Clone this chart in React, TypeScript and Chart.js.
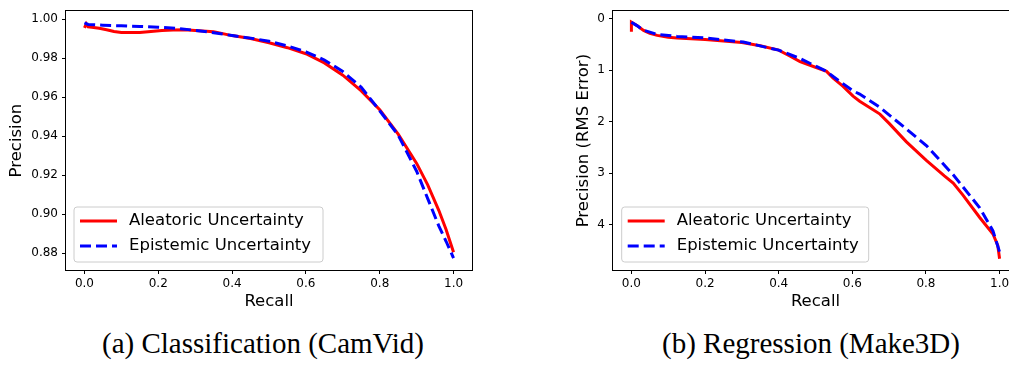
import React, { useEffect, useRef } from 'react';
import { Chart, registerables } from 'chart.js';

Chart.register(...registerables);

// ---------- Data ----------
const camvidRecallAleatoric = [0, 0.005, 0.01, 0.02, 0.04, 0.06, 0.08, 0.1, 0.12, 0.15, 0.18, 0.21, 0.24, 0.27, 0.3, 0.35, 0.4, 0.45, 0.5, 0.55, 0.6, 0.65, 0.7, 0.75, 0.8, 0.85, 0.9, 0.93, 0.96, 0.98, 1.0];
const camvidPrecisionAleatoric = [0.9955, 0.9975, 0.996, 0.9958, 0.9953, 0.9945, 0.9936, 0.9931, 0.9931, 0.9931, 0.9936, 0.9941, 0.9944, 0.9945, 0.9941, 0.9935, 0.9915, 0.99, 0.9878, 0.9853, 0.9822, 0.9775, 0.9712, 0.9632, 0.9535, 0.941, 0.926, 0.915, 0.902, 0.892, 0.8805];

const camvidRecallEpistemic = [0, 0.01, 0.05, 0.1, 0.15, 0.2, 0.25, 0.3, 0.35, 0.4, 0.45, 0.5, 0.55, 0.6, 0.65, 0.7, 0.75, 0.8, 0.85, 0.9, 0.93, 0.96, 0.98, 1.0];
const camvidPrecisionEpistemic = [0.998, 0.9972, 0.9968, 0.9965, 0.9962, 0.9958, 0.9952, 0.9942, 0.993, 0.9915, 0.9902, 0.9886, 0.9862, 0.9832, 0.979, 0.9731, 0.965, 0.953, 0.9405, 0.922, 0.908, 0.894, 0.886, 0.8775];

const make3dRecallAleatoric = [0, 0, 0.015, 0.033, 0.05, 0.07, 0.1, 0.124, 0.2, 0.3, 0.35, 0.4, 0.43, 0.458, 0.5, 0.53, 0.548, 0.575, 0.602, 0.62, 0.675, 0.7, 0.747, 0.801, 0.85, 0.874, 0.9, 0.946, 0.982, 0.995, 1.0];
const make3dRmsAleatoric = [0.25, 0.064, 0.128, 0.224, 0.28, 0.32, 0.355, 0.37, 0.4, 0.46, 0.52, 0.607, 0.72, 0.83, 0.94, 1.02, 1.15, 1.31, 1.5, 1.6, 1.85, 2.03, 2.39, 2.75, 3.05, 3.19, 3.42, 3.86, 4.18, 4.4, 4.66];

const make3dRecallEpistemic = [0, 0.015, 0.033, 0.07, 0.124, 0.2, 0.304, 0.4, 0.458, 0.53, 0.548, 0.602, 0.62, 0.675, 0.747, 0.801, 0.874, 0.946, 0.982, 1.0];
const make3dRmsEpistemic = [0.064, 0.13, 0.22, 0.3, 0.34, 0.37, 0.45, 0.607, 0.77, 1.02, 1.12, 1.4, 1.46, 1.72, 2.14, 2.46, 3.03, 3.67, 4.12, 4.53];

const recallTicks = [0, 0.2, 0.4, 0.6, 0.8, 1.0];
const camvidPrecisionTicks = [0.88, 0.9, 0.92, 0.94, 0.96, 0.98, 1.0];
const make3dRmsTicks = [0, 1, 2, 3, 4];

const seriesLabels = ['Aleatoric Uncertainty', 'Epistemic Uncertainty'];
const xAxisTitle = 'Recall';
const camvidYTitle = 'Precision';
const make3dYTitle = 'Precision (RMS Error)';
const captions = ['(a) Classification (CamVid)', '(b) Regression (Make3D)'];

// ---------- Styling ----------
const SANS = '"DejaVu Sans", sans-serif';

const boxLegendPlugin = {
  id: 'boxLegend',
  afterDatasetsDraw(chart: any, _args: any, opts: any) {
    const { ctx, chartArea } = chart;
    ctx.save();
    // frame
    ctx.strokeStyle = '#000';
    ctx.lineWidth = 1;
    ctx.strokeRect(
      Math.round(chartArea.left) - 0.5,
      Math.round(chartArea.top) - 0.5,
      Math.round(chartArea.right) - Math.round(chartArea.left) + 1,
      Math.round(chartArea.bottom) - Math.round(chartArea.top) + 1
    );
    if (!opts || !opts.w) { ctx.restore(); return; }
    const x = chartArea.left + opts.dx;
    const h = opts.h;
    const y = chartArea.bottom - opts.dy - h;
    const w = opts.w;
    const r = 3;
    ctx.beginPath();
    ctx.moveTo(x + r, y);
    ctx.lineTo(x + w - r, y);
    ctx.arcTo(x + w, y, x + w, y + r, r);
    ctx.lineTo(x + w, y + h - r);
    ctx.arcTo(x + w, y + h, x + w - r, y + h, r);
    ctx.lineTo(x + r, y + h);
    ctx.arcTo(x, y + h, x, y + h - r, r);
    ctx.lineTo(x, y + r);
    ctx.arcTo(x, y, x + r, y, r);
    ctx.closePath();
    ctx.fillStyle = 'rgba(255,255,255,0.8)';
    ctx.fill();
    ctx.strokeStyle = '#cccccc';
    ctx.lineWidth = 1;
    ctx.stroke();
    const ds = chart.data.datasets;
    ds.forEach((d: any, i: number) => {
      const yy = y + 14 + i * 25;
      ctx.beginPath();
      ctx.setLineDash(d.borderDash || []);
      ctx.strokeStyle = d.borderColor;
      ctx.lineWidth = d.borderWidth;
      ctx.lineCap = 'butt';
      ctx.moveTo(x + 6, yy);
      ctx.lineTo(x + 43, yy);
      ctx.stroke();
      ctx.setLineDash([]);
      ctx.fillStyle = '#000';
      ctx.font = `16.5px ${SANS}`;
      ctx.textAlign = 'left';
      ctx.textBaseline = 'middle';
      ctx.fillText(d.label, x + 55, yy);
    });
    ctx.restore();
  },
};

type PRProps = {
  left: number;
  width: number;
  height: number;
  padRight: number;
  yWidth: number;
  yTitlePad: number;
  recallA: number[];
  valuesA: number[];
  recallE: number[];
  valuesE: number[];
  yMin: number;
  yMax: number;
  yTicks: number[];
  yDecimals: number;
  reverse: boolean;
  yTitle: string;
  legend: { dx: number; dy: number; w: number; h: number };
};

function PRChart(p: PRProps) {
  const ref = useRef<HTMLCanvasElement>(null);
  useEffect(() => {
    const chart = new Chart(ref.current as HTMLCanvasElement, {
      type: 'line',
      data: {
        datasets: [
          {
            label: seriesLabels[0],
            data: p.recallA.map((x, i) => ({ x, y: p.valuesA[i] })),
            borderColor: '#ff0000',
            backgroundColor: '#ff0000',
            borderWidth: 3,
            pointRadius: 0,
            tension: 0,
            fill: false,
            order: 1,
          },
          {
            label: seriesLabels[1],
            data: p.recallE.map((x, i) => ({ x, y: p.valuesE[i] })),
            borderColor: '#0000ff',
            backgroundColor: '#0000ff',
            borderWidth: 3,
            borderDash: [11, 5],
            pointRadius: 0,
            tension: 0,
            fill: false,
            order: 0,
          },
        ],
      },
      options: {
        animation: false,
        responsive: false,
        devicePixelRatio: 1,
        layout: { padding: { top: 7, right: p.padRight, left: 0, bottom: 0 } },
        plugins: {
          legend: { display: false },
          tooltip: { enabled: false },
          boxLegend: p.legend,
        } as any,
        scales: {
          x: {
            type: 'linear',
            min: -0.05,
            max: 1.05,
            afterBuildTicks: (s: any) => {
              s.ticks = recallTicks.map((v) => ({ value: v }));
            },
            afterFit: (s: any) => {
              s.height = 50;
            },
            grid: { drawOnChartArea: false, drawTicks: true, tickLength: 4, tickColor: '#000', lineWidth: 1 },
            border: { display: false },
            ticks: {
              font: { family: SANS, size: 12 },
              color: '#000',
              padding: 3,
              maxRotation: 0,
              autoSkip: false,
              callback: (v: any) => Number(v).toFixed(1),
            },
            title: {
              display: true,
              text: xAxisTitle,
              font: { family: SANS, size: 16.5 },
              color: '#000',
              padding: { top: 0, bottom: 8 },
            },
          },
          y: {
            type: 'linear',
            min: p.yMin,
            max: p.yMax,
            reverse: p.reverse,
            afterBuildTicks: (s: any) => {
              s.ticks = p.yTicks.map((v) => ({ value: v }));
            },
            afterFit: (s: any) => {
              s.width = p.yWidth;
            },
            grid: { drawOnChartArea: false, drawTicks: true, tickLength: 4, tickColor: '#000', lineWidth: 1 },
            border: { display: false },
            ticks: {
              font: { family: SANS, size: 12 },
              color: '#000',
              padding: 4,
              autoSkip: false,
              callback: (v: any) => Number(v).toFixed(p.yDecimals),
            },
            title: {
              display: true,
              text: p.yTitle,
              font: { family: SANS, size: 16.5 },
              color: '#000',
              padding: { top: p.yTitlePad, bottom: 0 },
            },
          },
        },
      } as any,
      plugins: [boxLegendPlugin],
    });
    return () => chart.destroy();
  }, []);
  return (
    <canvas
      ref={ref}
      width={p.width}
      height={p.height}
      style={{ position: 'absolute', left: p.left, top: 0, width: p.width, height: p.height }}
    />
  );
}

const captionStyle: React.CSSProperties = {
  position: 'absolute',
  top: 329,
  width: 400,
  textAlign: 'center',
  fontFamily: '"Liberation Serif", "Times New Roman", serif',
  fontSize: 29,
  lineHeight: '29px',
  color: '#000',
  whiteSpace: 'nowrap',
};

export default function App() {
  return (
    <div
      style={{
        position: 'absolute',
        left: 0,
        top: 0,
        width: 1009,
        height: 365,
        overflow: 'hidden',
        background: '#fff',
      }}
    >
      <PRChart
        left={0}
        width={490}
        height={320}
        padRight={18}
        yWidth={66}
        yTitlePad={7}
        recallA={camvidRecallAleatoric}
        valuesA={camvidPrecisionAleatoric}
        recallE={camvidRecallEpistemic}
        valuesE={camvidPrecisionEpistemic}
        yMin={0.8714}
        yMax={1.004}
        yTicks={camvidPrecisionTicks}
        yDecimals={2}
        reverse={false}
        yTitle={camvidYTitle}
        legend={{ dx: 8, dy: 8, w: 249, h: 55 }}
      />
      <PRChart
        left={560}
        width={468}
        height={320}
        padRight={10}
        yWidth={53}
        yTitlePad={14}
        recallA={make3dRecallAleatoric}
        valuesA={make3dRmsAleatoric}
        recallE={make3dRecallEpistemic}
        valuesE={make3dRmsEpistemic}
        yMin={-0.15}
        yMax={4.88}
        yTicks={make3dRmsTicks}
        yDecimals={0}
        reverse={true}
        yTitle={make3dYTitle}
        legend={{ dx: 8.7, dy: 8, w: 247, h: 55 }}
      />
      <div style={{ ...captionStyle, left: 263 - 200 }}>{captions[0]}</div>
      <div style={{ ...captionStyle, left: 811 - 200 }}>{captions[1]}</div>
    </div>
  );
}
